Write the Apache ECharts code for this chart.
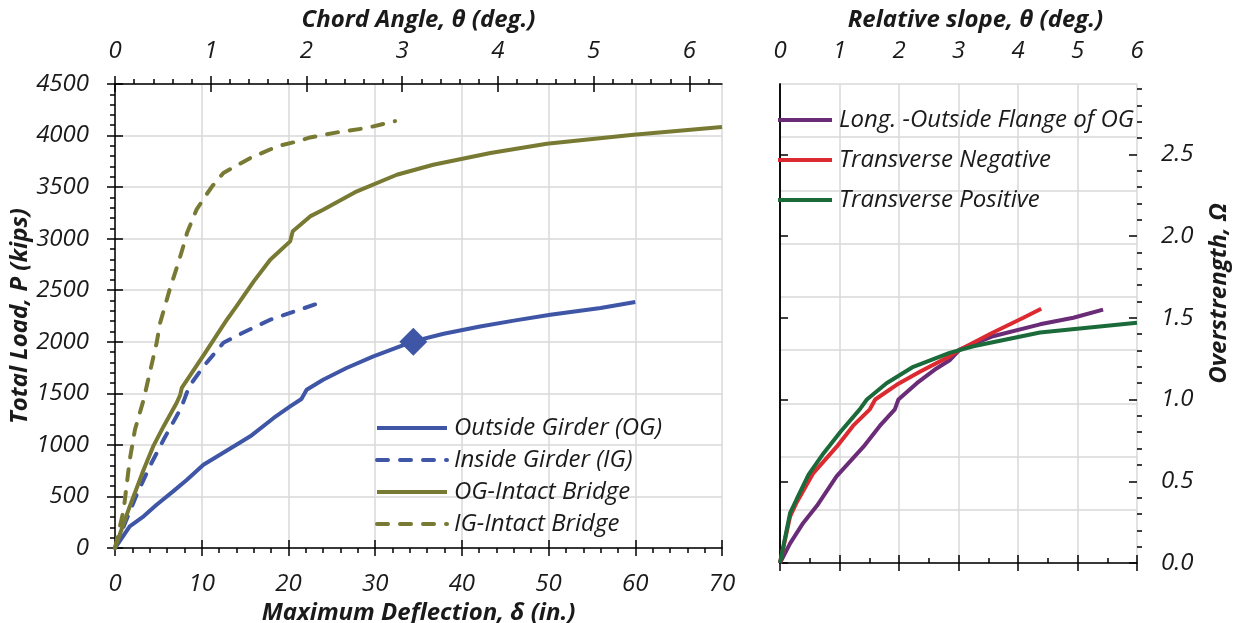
<!DOCTYPE html>
<html>
<head>
<meta charset="utf-8">
<script src="https://cdn.jsdelivr.net/npm/echarts@6/dist/echarts.min.js"></script>
<style>
  html, body { margin: 0; padding: 0; background: #fff; }
  #chart { width: 1236px; height: 623px; }
</style>
</head>
<body>
<div id="chart"></div>
<script>
// left panel: load vs deflection
var ogDefl = [0, 1.7, 3.3, 4.8, 6.7, 8.3, 10.2, 12.1, 14.0, 15.6, 18.3, 20.2, 21.5, 22.1, 24.0, 26.7, 29.8, 34.4, 37.9, 42.1, 46.0, 50.2, 56.0, 60.0];
var ogLoad = [0, 210, 307, 420, 549, 662, 808, 905, 1002, 1083, 1261, 1373, 1445, 1535, 1632, 1746, 1858, 2004, 2078, 2149, 2205, 2263, 2328, 2385];
var igDefl = [0, 1.2, 2.5, 4.0, 5.6, 7.5, 7.9, 8.3, 8.7, 10.2, 12.5, 14.8, 17.9, 20.2, 23.9];
var igLoad = [0, 250, 517, 790, 1050, 1340, 1420, 1510, 1584, 1760, 1990, 2090, 2214, 2280, 2386];
var ogIntactDefl = [0, 1.7, 3.3, 4.4, 5.6, 7.1, 7.5, 7.7, 10.3, 12.9, 14.0, 16.0, 17.9, 20.2, 20.5, 22.5, 24.0, 27.9, 32.5, 36.7, 43.3, 49.8, 59.8, 70.0];
var ogIntactLoad = [0, 403, 759, 985, 1179, 1406, 1480, 1552, 1880, 2214, 2343, 2586, 2796, 2974, 3071, 3216, 3281, 3459, 3620, 3717, 3831, 3921, 4008, 4083];
var igIntactDefl = [0, 1.0, 1.7, 2.3, 3.3, 4.0, 4.8, 5.2, 6.3, 7.3, 8.1, 8.3, 9.4, 10.4, 11.2, 12.5, 15.6, 18.7, 21.0, 22.5, 25.6, 29.0, 32.3];
var igIntactLoad = [0, 371, 856, 1147, 1438, 1697, 1988, 2182, 2505, 2764, 2990, 3055, 3281, 3410, 3507, 3637, 3782, 3895, 3943, 3982, 4031, 4073, 4140];
var markDefl = [34.4];
var markLoad = [2000];

// right panel: overstrength vs relative slope
var longSlope = [0, 0.17, 0.39, 0.62, 0.95, 1.40, 1.68, 1.93, 1.99, 2.30, 2.63, 2.85, 3.02, 3.58, 4.37, 4.93, 5.43];
var longOmega = [0, 0.12, 0.245, 0.35, 0.53, 0.71, 0.84, 0.94, 1.0, 1.10, 1.19, 1.24, 1.305, 1.387, 1.46, 1.50, 1.55];
var negSlope = [0, 0.17, 0.28, 0.56, 0.95, 1.23, 1.51, 1.60, 1.96, 2.35, 2.85, 3.02, 3.58, 4.09, 4.39];
var negOmega = [0, 0.285, 0.37, 0.55, 0.71, 0.84, 0.94, 1.0, 1.09, 1.17, 1.264, 1.305, 1.41, 1.50, 1.555];
var posSlope = [0, 0.17, 0.28, 0.48, 0.73, 1.01, 1.34, 1.46, 1.79, 2.24, 2.85, 3.25, 4.37, 6.0];
var posOmega = [0, 0.306, 0.39, 0.54, 0.67, 0.80, 0.94, 1.0, 1.10, 1.20, 1.285, 1.326, 1.41, 1.47];

// tick values
var chordTicks = [0, 1, 2, 3, 4, 5, 6];
var chordMinor = [0.2, 0.4, 0.6, 0.8, 1.2, 1.4, 1.6, 1.8, 2.2, 2.4, 2.6, 2.8, 3.2, 3.4, 3.6, 3.8, 4.2, 4.4, 4.6, 4.8, 5.2, 5.4, 5.6, 5.8, 6.2];
var omegaTicks = [0, 0.5, 1.0, 1.5, 2.0, 2.5];
var omegaMinor = [0.1, 0.2, 0.3, 0.4, 0.6, 0.7, 0.8, 0.9, 1.1, 1.2, 1.3, 1.4, 1.6, 1.7, 1.8, 1.9, 2.1, 2.2, 2.3, 2.4, 2.6, 2.7, 2.8, 2.9];
var chordMax = 6.34;
var omegaMax = 2.93;

var FONT = '"Open Sans"';
var BLUE = '#3F56A6', OLIVE = '#787A33', PURPLE = '#6A2C77', RED = '#DB2B30', GREEN = '#1B6A3A';
var GRID_GRAY = '#D9D9D9';
var LW = 4;
var FS = 24;

function pairs(xs, ys) {
    var out = [];
    for (var i = 0; i < xs.length; i++) out.push([xs[i], ys[i]]);
    return out;
}

function labels(margin, extra) {
    return Object.assign({color: '#1a1a1a', fontFamily: FONT, fontStyle: 'italic', fontSize: FS, margin: margin}, extra || {});
}
var nameStyle = {color: '#1a1a1a', fontFamily: FONT, fontStyle: 'italic', fontWeight: 'bold', fontSize: FS};
var legendText = {color: '#1a1a1a', fontFamily: FONT, fontStyle: 'italic', fontSize: FS, lineHeight: 24, padding: [0, 0, 0, 2]};
var blackLine = {show: true, lineStyle: {color: '#000', width: 1.5}};
var noLine = {show: false};
var hideSymbol = {color: 'rgba(0,0,0,0)', borderWidth: 0, opacity: 0};

// overlay axis giving the inward half of a crossing tick
function overlay(base, extra) {
    var a = Object.assign({
        axisLine: noLine, axisLabel: {show: false}, splitLine: {show: false},
        minorTick: {show: false}, axisTick: {show: true, inside: true, length: 8, lineStyle: {color: '#000', width: 1.5}}
    }, base);
    return Object.assign(a, extra || {});
}

var chart = echarts.init(document.getElementById('chart'));
var option = {
    animation: false,
    backgroundColor: '#fff',
    grid: [
        {left: 115, top: 84, width: 607, height: 464, outerBoundsMode: 'none', containLabel: false},
        {left: 780, top: 84, width: 357, height: 479, outerBoundsMode: 'none', containLabel: false}
    ],
    legend: [
        {
            data: ['Outside Girder (OG)', 'Inside Girder (IG)', 'OG-Intact Bridge', 'IG-Intact Bridge'],
            orient: 'vertical', left: 375, top: 416, padding: 0, itemWidth: 70, itemHeight: 14, itemGap: 8,
            itemStyle: hideSymbol, lineStyle: {width: LW}, textStyle: legendText
        },
        {
            data: ['Long. -Outside Flange of OG', 'Transverse Negative', 'Transverse Positive'],
            orient: 'vertical', left: 776, top: 108, padding: 0, itemWidth: 54, itemHeight: 14, itemGap: 16,
            itemStyle: hideSymbol, lineStyle: {width: LW}, textStyle: legendText
        }
    ],
    xAxis: [
        {   // 0: deflection
            type: 'value', gridIndex: 0, position: 'bottom', min: 0, max: 70, interval: 10,
            name: 'Maximum Deflection, δ (in.)', nameLocation: 'middle', nameGap: 45, nameTextStyle: nameStyle,
            axisLine: blackLine,
            axisTick: {show: true, inside: false, length: 8, lineStyle: {color: '#000', width: 1.5}},
            minorTick: {show: true, splitNumber: 5, length: 5, lineStyle: {color: '#000', width: 1.5}},
            axisLabel: labels(24),
            splitLine: {show: true, lineStyle: {color: GRID_GRAY, width: 1.5}}
        },
        overlay({type: 'value', gridIndex: 0, position: 'bottom', min: 0, max: 70, interval: 10}),
        {   // 2: chord angle
            type: 'value', gridIndex: 0, position: 'top', min: 0, max: chordMax,
            name: 'Chord Angle, θ (deg.)', nameLocation: 'middle', nameGap: 52, nameTextStyle: nameStyle,
            axisLine: blackLine,
            axisTick: {show: true, inside: false, length: 8, customValues: chordTicks, lineStyle: {color: '#000', width: 1.5}},
            minorTick: {show: false},
            axisLabel: labels(21, {customValues: chordTicks}),
            splitLine: {show: false}
        },
        overlay({type: 'value', gridIndex: 0, position: 'top', min: 0, max: chordMax},
            {axisTick: {show: true, inside: true, length: 8, customValues: chordTicks, lineStyle: {color: '#000', width: 1.5}}}),
        overlay({type: 'value', gridIndex: 0, position: 'top', min: 0, max: chordMax},
            {axisTick: {show: true, inside: false, length: 5, customValues: chordMinor, lineStyle: {color: '#000', width: 1.5}}}),
        {   // 5: relative slope
            type: 'value', gridIndex: 1, position: 'top', min: 0, max: 6, interval: 1,
            name: 'Relative slope, θ (deg.)', nameLocation: 'middle', nameGap: 52,
            nameTextStyle: Object.assign({padding: [0, 0, 0, 34]}, nameStyle),
            axisLine: blackLine,
            axisTick: {show: true, inside: false, length: 8, lineStyle: {color: '#000', width: 1.5}},
            minorTick: {show: true, splitNumber: 2, length: 5, lineStyle: {color: '#000', width: 1.5}},
            axisLabel: labels(21),
            splitLine: {show: true, lineStyle: {color: GRID_GRAY, width: 1.5}}
        },
        overlay({type: 'value', gridIndex: 1, position: 'top', min: 0, max: 6, interval: 1})
    ],
    yAxis: [
        {   // 0: total load
            type: 'value', gridIndex: 0, position: 'left', min: 0, max: 4500, interval: 500,
            name: 'Total Load, P (kips)', nameLocation: 'middle', nameGap: 78, nameRotate: 90, nameTextStyle: nameStyle,
            axisLine: blackLine,
            axisTick: {show: true, inside: false, length: 8, lineStyle: {color: '#000', width: 1.5}},
            minorTick: {show: true, splitNumber: 5, length: 5, lineStyle: {color: '#000', width: 1.5}},
            axisLabel: labels(26, {formatter: function (v) { return String(v); }}),
            splitLine: {show: true, lineStyle: {color: GRID_GRAY, width: 1.5}}
        },
        overlay({type: 'value', gridIndex: 0, position: 'left', min: 0, max: 4500, interval: 500}),
        {   // 2: load scale behind the right panel (gridlines only)
            type: 'value', gridIndex: 1, position: 'left', min: 0, max: 4500, interval: 500,
            axisLine: blackLine, axisTick: {show: false}, axisLabel: {show: false}, minorTick: {show: false},
            splitLine: {show: true, lineStyle: {color: GRID_GRAY, width: 1.5}}
        },
        {   // 3: overstrength
            type: 'value', gridIndex: 1, position: 'right', min: 0, max: omegaMax,
            name: 'Overstrength, Ω', nameLocation: 'middle', nameGap: 70, nameRotate: 90,
            nameTextStyle: Object.assign({padding: [0, 0, 0, 60]}, nameStyle),
            axisLine: blackLine,
            axisTick: {show: true, inside: false, length: 8, customValues: omegaTicks, lineStyle: {color: '#000', width: 1.5}},
            minorTick: {show: false},
            axisLabel: labels(24, {customValues: omegaTicks, formatter: function (v) { return v.toFixed(1); }}),
            splitLine: {show: false}
        },
        overlay({type: 'value', gridIndex: 1, position: 'right', min: 0, max: omegaMax},
            {axisTick: {show: true, inside: true, length: 8, customValues: omegaTicks, lineStyle: {color: '#000', width: 1.5}}}),
        overlay({type: 'value', gridIndex: 1, position: 'right', min: 0, max: omegaMax},
            {axisTick: {show: true, inside: false, length: 5, customValues: omegaMinor, lineStyle: {color: '#000', width: 1.5}}})
    ],
    series: [
        {name: 'Outside Girder (OG)', type: 'line', xAxisIndex: 0, yAxisIndex: 0, symbol: 'none',
            lineStyle: {color: BLUE, width: LW}, itemStyle: {color: BLUE}, data: pairs(ogDefl, ogLoad)},
        {name: 'Inside Girder (IG)', type: 'line', xAxisIndex: 0, yAxisIndex: 0, symbol: 'none',
            lineStyle: {color: BLUE, width: LW, type: [11, 12], cap: 'round'}, itemStyle: {color: BLUE}, data: pairs(igDefl, igLoad)},
        {name: 'OG-Intact Bridge', type: 'line', xAxisIndex: 0, yAxisIndex: 0, symbol: 'none',
            lineStyle: {color: OLIVE, width: LW}, itemStyle: {color: OLIVE}, data: pairs(ogIntactDefl, ogIntactLoad)},
        {name: 'IG-Intact Bridge', type: 'line', xAxisIndex: 0, yAxisIndex: 0, symbol: 'none',
            lineStyle: {color: OLIVE, width: LW, type: [11, 12], cap: 'round'}, itemStyle: {color: OLIVE}, data: pairs(igIntactDefl, igIntactLoad)},
        {name: 'marker', type: 'scatter', xAxisIndex: 0, yAxisIndex: 0, symbol: 'diamond', symbolSize: 28,
            itemStyle: {color: BLUE, opacity: 1}, data: pairs(markDefl, markLoad), z: 5},
        {name: 'Long. -Outside Flange of OG', type: 'line', xAxisIndex: 5, yAxisIndex: 3, symbol: 'none',
            lineStyle: {color: PURPLE, width: LW}, itemStyle: {color: PURPLE}, data: pairs(longSlope, longOmega)},
        {name: 'Transverse Negative', type: 'line', xAxisIndex: 5, yAxisIndex: 3, symbol: 'none',
            lineStyle: {color: RED, width: LW}, itemStyle: {color: RED}, data: pairs(negSlope, negOmega)},
        {name: 'Transverse Positive', type: 'line', xAxisIndex: 5, yAxisIndex: 3, symbol: 'none',
            lineStyle: {color: GREEN, width: LW}, itemStyle: {color: GREEN}, data: pairs(posSlope, posOmega)}
    ]
};
chart.setOption(option);
</script>
</body>
</html>
